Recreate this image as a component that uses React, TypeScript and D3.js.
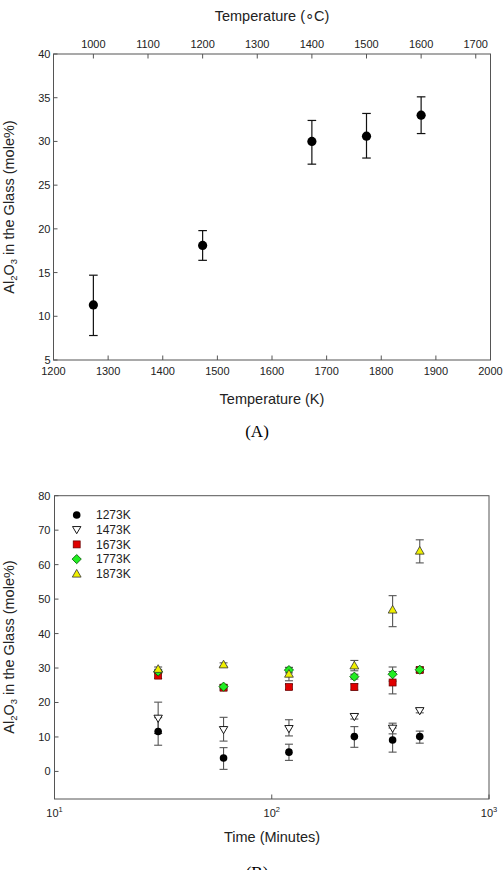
import React from "react";
import * as d3 from "d3";

// Chart A data
const tempK = [1273, 1473, 1673, 1773, 1873];
const alA = [11.3, 18.1, 30.0, 30.6, 33.0];
const alALow = [7.8, 16.4, 27.4, 28.1, 30.9];
const alAHigh = [14.7, 19.8, 32.4, 33.2, 35.1];
const kTicks = [1200, 1300, 1400, 1500, 1600, 1700, 1800, 1900, 2000];
const cTicks = [1000, 1100, 1200, 1300, 1400, 1500, 1600, 1700];
const yTicksA = [5, 10, 15, 20, 25, 30, 35, 40];

// Chart B data
const times = [30, 60, 120, 240, 360, 480];
const s1273 = [11.6, 3.9, 5.6, 10.1, 9.1, 10.1];
const e1273Low = [7.6, 0.6, 3.2, 7.0, 5.6, 8.2];
const e1273High = [15.6, 6.9, 7.9, 13.0, 12.6, 11.7];
const s1473 = [15.4, 12.1, 12.4, 15.9, 12.5, 17.6];
const e1473Low = [11.0, 8.8, 10.3, 15.2, 10.9, 17.0];
const e1473High = [20.1, 15.7, 15.0, 16.6, 14.0, 18.2];
const s1673 = [27.8, 24.3, 24.5, 24.5, 25.8, 29.4];
const e1673Low = [27.0, 23.6, 23.8, 23.6, 22.5, 28.8];
const e1673High = [28.6, 25.0, 25.2, 25.4, 29.0, 30.0];
const s1773 = [29.0, 24.6, 29.4, 27.5, 28.2, 29.5];
const e1773Low = [28.4, 24.0, 28.6, 26.8, 26.2, 28.8];
const e1773High = [29.6, 25.2, 30.2, 28.2, 30.3, 30.2];
const s1873 = [29.7, 31.0, 28.3, 30.7, 46.9, 64.0];
const e1873Low = [29.1, 30.5, 26.3, 29.2, 42.0, 60.5];
const e1873High = [30.3, 31.5, 30.1, 32.2, 51.0, 67.2];
const seriesNames = ["1273K", "1473K", "1673K", "1773K", "1873K"];
const yTicksB = [0, 10, 20, 30, 40, 50, 60, 70, 80];
const xTicksB = [10, 100, 1000];

const FONT = "Liberation Sans, Arial, sans-serif";
const AXIS = "#555";
const TXT = "#222";
const LBL = 14.5;
const TICK = 11;

function YLabel({ x, y }: { x: number; y: number }) {
  return (
    <text
      transform={`translate(${x},${y}) rotate(-90)`}
      textAnchor="middle"
      fontSize={LBL}
      fill={TXT}
      fontFamily={FONT}
    >
      Al<tspan fontSize={9.5} dy={3.5}>2</tspan>
      <tspan dy={-3.5}>O</tspan>
      <tspan fontSize={9.5} dy={3.5}>3</tspan>
      <tspan dy={-3.5}> in the Glass (mole%)</tspan>
    </text>
  );
}

function Marker({ kind, x, y }: { kind: number; x: number; y: number }) {
  if (kind === 0) return <circle cx={x} cy={y} r={3.8} fill="#000" />;
  if (kind === 1) {
    const s = 4.2;
    return (
      <path
        d={`M${x - s},${y - s * 0.75} L${x + s},${y - s * 0.75} L${x},${y + s * 0.95} Z`}
        fill="#fff"
        stroke="#000"
        strokeWidth={0.9}
      />
    );
  }
  if (kind === 2)
    return <rect x={x - 3.5} y={y - 3.5} width={7} height={7} fill="#e00000" stroke="#600" strokeWidth={0.7} />;
  if (kind === 3) {
    const s = 4.6;
    return (
      <path
        d={`M${x},${y - s} L${x + s},${y} L${x},${y + s} L${x - s},${y} Z`}
        fill="#22ee22"
        stroke="#050"
        strokeWidth={0.8}
      />
    );
  }
  const s = 4.4;
  return (
    <path
      d={`M${x},${y - s} L${x + s},${y + s * 0.75} L${x - s},${y + s * 0.75} Z`}
      fill="#f0f000"
      stroke="#333"
      strokeWidth={0.8}
    />
  );
}

export default function App() {
  // Chart A
  const axL = 53.5, axR = 490.5, ayT = 54, ayB = 360;
  const xA = d3.scaleLinear().domain([1200, 2000]).range([axL, axR]);
  const yA = d3.scaleLinear().domain([5, 40]).range([ayB, ayT]);

  // Chart B
  const bxL = 54.5, bxR = 489, byT = 495.7, byB = 799;
  const xB = d3.scaleLog().domain([10, 1000]).range([bxL, bxR]);
  const yB = d3.scaleLinear().domain([-8, 80]).range([byB, byT]);

  const seriesB = [
    [s1273, e1273Low, e1273High],
    [s1473, e1473Low, e1473High],
    [s1673, e1673Low, e1673High],
    [s1773, e1773Low, e1773High],
    [s1873, e1873Low, e1873High],
  ];

  return (
    <svg
      width={504}
      height={870}
      style={{ position: "absolute", left: 0, top: 0, background: "#fff" }}
      fontFamily={FONT}
    >
      <rect x={0} y={0} width={504} height={870} fill="#fff" />
      {/* ===== Chart A ===== */}
      <text x={272} y={21} textAnchor="middle" fontSize={LBL} fill={TXT}>
        Temperature (∘C)
      </text>
      {cTicks.map((c) => (
        <g key={"c" + c}>
          <line x1={xA(c + 273)} x2={xA(c + 273)} y1={ayT} y2={ayT + 4.5} stroke={AXIS} />
          <text x={xA(c + 273)} y={48.3} textAnchor="middle" fontSize={TICK} fill={TXT}>
            {c}
          </text>
        </g>
      ))}
      {kTicks.map((k) => (
        <g key={"k" + k}>
          <line x1={xA(k)} x2={xA(k)} y1={ayB} y2={ayB - 4.5} stroke={AXIS} />
          <text x={xA(k)} y={ayB + 15} textAnchor="middle" fontSize={TICK} fill={TXT}>
            {k}
          </text>
        </g>
      ))}
      {yTicksA.map((v) => (
        <g key={"ya" + v}>
          <line x1={axL} x2={axL + 4} y1={yA(v)} y2={yA(v)} stroke={AXIS} />
          <text x={axL - 3} y={yA(v) + 4} textAnchor="end" fontSize={TICK} fill={TXT}>
            {v}
          </text>
        </g>
      ))}
      <rect x={axL} y={ayT} width={axR - axL} height={ayB - ayT} fill="none" stroke={AXIS} strokeWidth={1} />
      {tempK.map((t, i) => (
        <g key={"a" + t}>
          <line x1={xA(t)} x2={xA(t)} y1={yA(alALow[i])} y2={yA(alAHigh[i])} stroke="#111" strokeWidth={1.2} />
          <line x1={xA(t) - 4.3} x2={xA(t) + 4.3} y1={yA(alALow[i])} y2={yA(alALow[i])} stroke="#111" strokeWidth={1.2} />
          <line x1={xA(t) - 4.3} x2={xA(t) + 4.3} y1={yA(alAHigh[i])} y2={yA(alAHigh[i])} stroke="#111" strokeWidth={1.2} />
          <circle cx={xA(t)} cy={yA(alA[i])} r={4.6} fill="#000" />
        </g>
      ))}
      <text x={272} y={404} textAnchor="middle" fontSize={LBL} fill={TXT}>
        Temperature (K)
      </text>
      <YLabel x={13.5} y={207} />
      <text x={257} y={437} textAnchor="middle" fontSize={17} fontFamily="Liberation Serif, Times New Roman, serif" fill="#000">
        (A)
      </text>

      {/* ===== Chart B ===== */}
      {yTicksB.map((v) => (
        <g key={"yb" + v}>
          <line x1={bxL} x2={bxL + 4} y1={yB(v)} y2={yB(v)} stroke={AXIS} />
          <text x={bxL - 4} y={yB(v) + 4} textAnchor="end" fontSize={TICK} fill={TXT}>
            {v}
          </text>
        </g>
      ))}
      {xTicksB.map((t) => (
        <g key={"xb" + t}>
          <line x1={xB(t)} x2={xB(t)} y1={byB} y2={byB - 4.5} stroke={AXIS} />
          <text x={xB(t)} y={byB + 18} textAnchor="middle" fontSize={TICK} fill={TXT}>
            10
            <tspan fontSize={7.5} dy={-5}>
              {Math.round(Math.log10(t))}
            </tspan>
          </text>
        </g>
      ))}
      <rect x={bxL} y={byT} width={bxR - bxL} height={byB - byT} fill="none" stroke={AXIS} strokeWidth={1} />
      {seriesB.map((s, k) =>
        times.map((t, i) => (
          <g key={"eb" + k + "-" + i} stroke="#555" strokeWidth={1.1}>
            <line x1={xB(t)} x2={xB(t)} y1={yB(s[1][i])} y2={yB(s[2][i])} />
            <line x1={xB(t) - 4} x2={xB(t) + 4} y1={yB(s[1][i])} y2={yB(s[1][i])} />
            <line x1={xB(t) - 4} x2={xB(t) + 4} y1={yB(s[2][i])} y2={yB(s[2][i])} />
          </g>
        ))
      )}
      {seriesB.map((s, k) =>
        times.map((t, i) => <Marker key={"m" + k + "-" + i} kind={k} x={xB(t)} y={yB(s[0][i])} />)
      )}
      {seriesNames.map((n, k) => (
        <g key={"lg" + n}>
          <Marker kind={k} x={76.7} y={515 + k * 14.7} />
          <text x={96} y={515 + k * 14.7 + 4.3} fontSize={12} fill={TXT}>
            {n}
          </text>
        </g>
      ))}
      <text x={272} y={842} textAnchor="middle" fontSize={LBL} fill={TXT}>
        Time (Minutes)
      </text>
      <YLabel x={13.5} y={647} />
      <text x={257} y={878} textAnchor="middle" fontSize={17} fontFamily="Liberation Serif, Times New Roman, serif" fill="#000">
        (B)
      </text>
    </svg>
  );
}
